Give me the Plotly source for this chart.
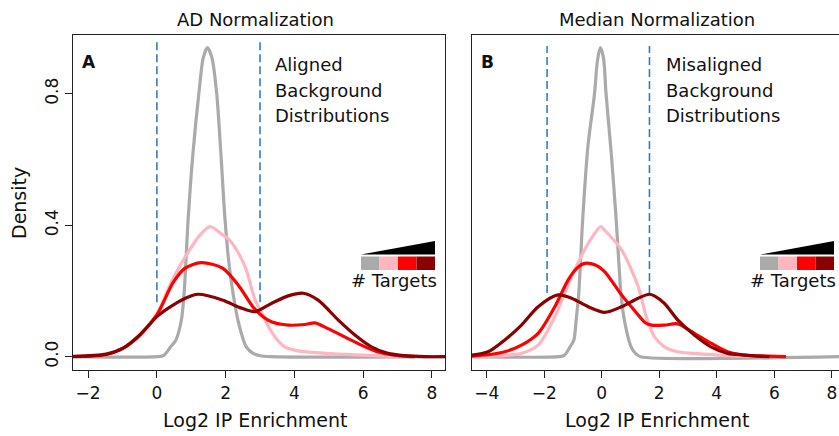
import plotly.graph_objects as go

# ---------------- data ----------------
series_names = ["few targets", "more targets", "many targets", "most targets"]
series_colors = ["#aaaaaa", "#ffb6c1", "#ff0000", "#8b0000"]

# Panel A: AD normalization
ad_gray_x = [-2.44, 0.0, 0.2, 0.4, 0.55, 0.71, 0.79, 0.91, 1.05, 1.22, 1.35, 1.47, 1.6, 1.74, 1.86, 1.98, 2.1, 2.22, 2.36, 2.6, 2.8, 3.0, 3.3, 8.38]
ad_gray_y = [0, 0, 0.004, 0.03, 0.05, 0.11, 0.19, 0.42, 0.62, 0.80, 0.91, 0.94, 0.91, 0.80, 0.62, 0.42, 0.28, 0.19, 0.11, 0.03, 0.01, 0.003, 0, 0]

ad_pink_x = [-2.44, -1.5, -1.0, -0.5, 0.0, 0.47, 0.95, 1.25, 1.55, 1.92, 2.11, 2.4, 2.6, 2.85, 3.08, 3.2, 3.43, 3.72, 4.0, 4.5, 5.27, 6.3, 7.0]
ad_pink_y = [0.0, 0.006, 0.024, 0.065, 0.13, 0.238, 0.325, 0.37, 0.396, 0.37, 0.355, 0.31, 0.264, 0.175, 0.127, 0.10, 0.061, 0.03, 0.02, 0.013, 0.008, 0.003, 0.0]

ad_red_x = [-2.44, -1.5, -1.0, -0.5, 0.0, 0.47, 0.8, 1.29, 1.92, 2.4, 2.79, 3.08, 3.33, 3.82, 4.3, 4.6, 4.96, 5.45, 5.93, 6.4, 6.9, 7.5]
ad_red_y = [0.0, 0.006, 0.025, 0.065, 0.127, 0.225, 0.268, 0.286, 0.269, 0.213, 0.152, 0.122, 0.106, 0.096, 0.098, 0.103, 0.086, 0.061, 0.036, 0.015, 0.005, 0.0]

ad_dark_x = [-2.44, -1.47, -0.98, -0.5, 0.0, 0.47, 0.95, 1.19, 1.92, 2.4, 2.85, 3.33, 3.82, 4.26, 4.69, 5.27, 5.76, 6.24, 6.72, 7.21, 7.8, 8.38]
ad_dark_y = [0.001, 0.008, 0.026, 0.066, 0.122, 0.157, 0.183, 0.19, 0.172, 0.150, 0.137, 0.162, 0.185, 0.193, 0.172, 0.112, 0.066, 0.03, 0.01, 0.003, 0.0, 0.0]

# Panel B: Median normalization
md_gray_x = [-4.51, -1.5, -1.3, -1.1, -0.97, -0.89, -0.8, -0.66, -0.48, -0.25, -0.15, -0.05, 0.06, 0.15, 0.33, 0.5, 0.6, 0.67, 0.79, 1.02, 1.2, 1.35, 8.25]
md_gray_y = [0, 0, 0.004, 0.03, 0.05, 0.11, 0.19, 0.42, 0.64, 0.80, 0.90, 0.94, 0.91, 0.80, 0.62, 0.42, 0.28, 0.19, 0.11, 0.03, 0.008, 0, 0]

md_pink_x = [-4.51, -3.37, -2.79, -2.21, -1.63, -1.05, -0.47, -0.03, 0.10, 0.69, 1.27, 1.55, 1.83, 2.18, 2.64, 3.22, 4.38, 5.5]
md_pink_y = [0.0, 0.004, 0.010, 0.035, 0.122, 0.243, 0.345, 0.396, 0.385, 0.325, 0.213, 0.122, 0.061, 0.03, 0.015, 0.01, 0.003, 0.0]

md_red_x = [-4.51, -3.95, -3.37, -2.79, -2.21, -1.63, -1.17, -0.85, -0.59, -0.2, 0.10, 0.69, 1.27, 1.49, 1.73, 2.18, 2.64, 3.22, 3.8, 4.38, 4.96, 5.77, 6.41]
md_red_y = [0.002, 0.006, 0.015, 0.035, 0.071, 0.152, 0.233, 0.27, 0.284, 0.278, 0.259, 0.188, 0.127, 0.105, 0.096, 0.096, 0.10, 0.071, 0.041, 0.015, 0.005, 0.002, 0.0]

md_dark_x = [-4.51, -3.95, -3.37, -2.79, -2.21, -1.52, -1.05, -0.47, 0.10, 0.69, 1.27, 1.65, 1.83, 2.18, 2.64, 3.22, 3.8, 4.38, 4.96, 5.83]
md_dark_y = [0.005, 0.015, 0.051, 0.096, 0.152, 0.188, 0.178, 0.152, 0.135, 0.152, 0.178, 0.19, 0.185, 0.162, 0.112, 0.066, 0.03, 0.01, 0.005, 0.0]

ad_cutoffs = [0.0, 3.0]
ad_cut_span = [0.166, 0.957]
md_cutoffs = [-1.9, 1.66]
md_cut_span = [0.194, 0.945]

x_ticks = [-2, 0, 2, 4, 6, 8]
x_ticks_b = [-4, -2, 0, 2, 4, 6, 8]
y_ticks = [0.0, 0.4, 0.8]
y_tick_text = ["0.0", "0.4", "0.8"]

# ---------------- figure ----------------
W, H = 839, 436
FONT = "DejaVu Sans"
fig = go.Figure()

def add_curve(x, y, color, xa, ya):
    fig.add_trace(go.Scatter(x=x, y=y, mode="lines", xaxis=xa, yaxis=ya,
                             line=dict(color=color, width=3.2, shape="spline", smoothing=0.8),
                             showlegend=False, hoverinfo="skip"))

panels = [
    ("x", "y", [(ad_gray_x, ad_gray_y), (ad_pink_x, ad_pink_y), (ad_red_x, ad_red_y), (ad_dark_x, ad_dark_y)], ad_cutoffs, ad_cut_span),
    ("x2", "y2", [(md_gray_x, md_gray_y), (md_pink_x, md_pink_y), (md_red_x, md_red_y), (md_dark_x, md_dark_y)], md_cutoffs, md_cut_span),
]
for xa, ya, curves, cuts, span in panels:
    for c in cuts:
        fig.add_trace(go.Scatter(x=[c, c], y=span, mode="lines", xaxis=xa, yaxis=ya,
                                 line=dict(color="#2f7fc0", width=1.6, dash="8px,4px"),
                                 showlegend=False, hoverinfo="skip"))
    for (cx, cy), col in zip(curves, series_colors):
        add_curve(cx, cy, col, xa, ya)

def px(x):
    return x / W

def py(y):
    return 1 - y / H

ydom = [py(370), py(35)]
axis_common = dict(showgrid=False, zeroline=False, showline=True, linecolor="#222222",
                   linewidth=1.2, ticks="outside", ticklen=7, tickcolor="#222222",
                   tickfont=dict(family=FONT, size=17, color="#111111"))

fig.update_layout(
    width=W, height=H, margin=dict(l=0, r=0, t=0, b=0),
    paper_bgcolor="white", plot_bgcolor="white",
    xaxis=dict(domain=[px(73), px(445)], range=[-2.44, 8.38], tickvals=x_ticks, mirror=True, anchor="y", **axis_common),
    yaxis=dict(domain=ydom, range=[-0.0405, 0.9787], tickvals=y_ticks, ticktext=y_tick_text, tickangle=-90, mirror=True, anchor="x", **axis_common),
    xaxis2=dict(domain=[px(472), 1.0], range=[-4.51, 8.25], tickvals=x_ticks_b, mirror=True, anchor="y2", **axis_common),
    yaxis2=dict(domain=ydom, range=[-0.0405, 0.9787], showticklabels=False, showgrid=False, zeroline=False,
                showline=True, linecolor="#222222", linewidth=1.2, ticks="", anchor="x2"),
)

ann = []
def text(x, y, s, size=18, bold=False, xanchor="center", angle=0):
    ann.append(dict(x=px(x), y=py(y), xref="paper", yref="paper", text=("<b>%s</b>" % s) if bold else s,
                    showarrow=False, xanchor=xanchor, yanchor="middle", textangle=angle,
                    font=dict(family=FONT, size=size, color="#111111")))

text(255, 19, "AD Normalization", 18)
text(657, 19, "Median Normalization", 18)
text(255, 420, "Log2 IP Enrichment", 19)
text(657, 420, "Log2 IP Enrichment", 19)
text(19, 203, "Density", 19, angle=-90)
text(89, 62, "A", 17, bold=True)
text(487, 62, "B", 17, bold=True)
for i, s in enumerate(["Aligned", "Background", "Distributions"]):
    text(273, 64 + 26 * i, s, 18, xanchor="left")
for i, s in enumerate(["Misaligned", "Background", "Distributions"]):
    text(664, 64 + 26 * i, s, 18, xanchor="left")
text(394, 280, "# Targets", 18)
text(793, 280, "# Targets", 18)

shapes = []
for x0, x1 in [(361, 435), (760, 834)]:
    w = (x1 - x0) / 4
    for i, col in enumerate(series_colors):
        shapes.append(dict(type="rect", xref="paper", yref="paper",
                           x0=px(x0 + i * w), x1=px(x0 + (i + 1) * w), y0=py(270), y1=py(256.5),
                           fillcolor=col, line=dict(width=0)))
    shapes.append(dict(type="path", xref="paper", yref="paper",
                       path="M %f %f L %f %f L %f %f Z" % (px(x0), py(254.5), px(x1), py(254.5), px(x1), py(241)),
                       fillcolor="black", line=dict(width=0)))

fig.update_layout(annotations=ann, shapes=shapes)
fig.write_html("out.html")
